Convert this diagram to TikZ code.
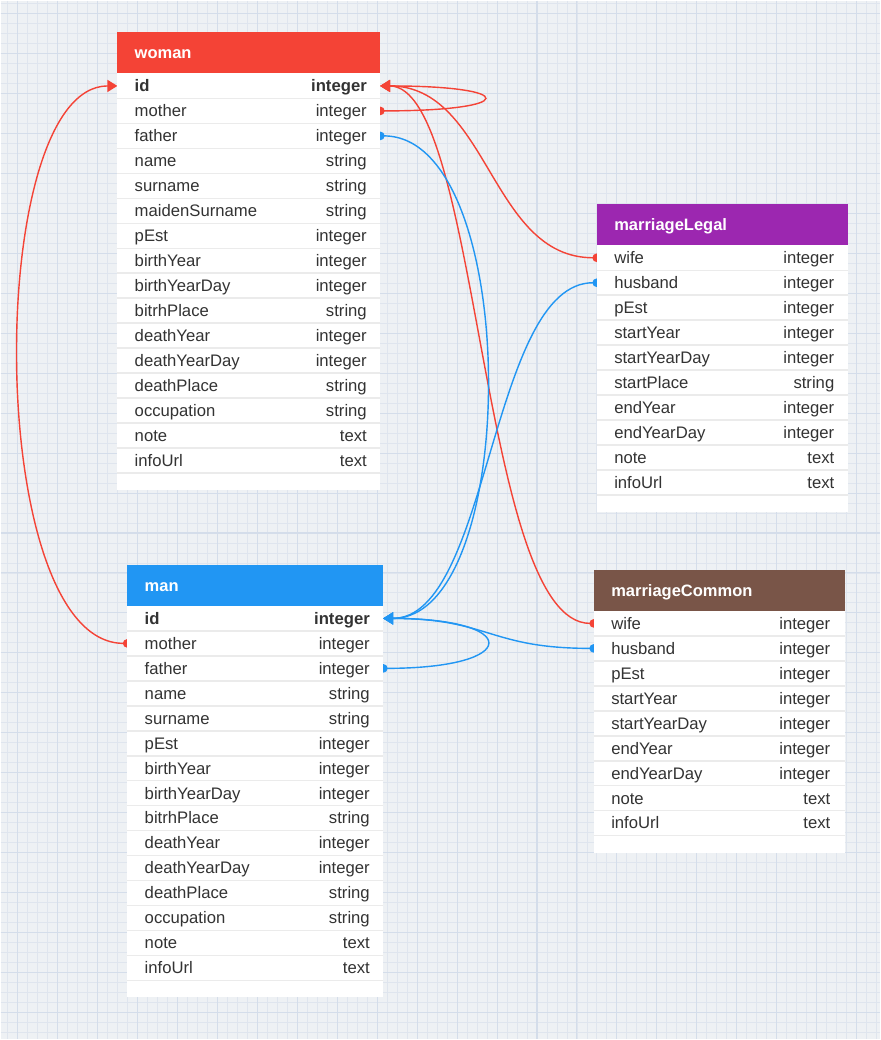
\documentclass[tikz,border=0pt]{standalone}
\usepackage{fontspec}
\setmainfont{Liberation Sans}
\usepackage{xcolor}
\usepackage{tikz}
\usetikzlibrary{arrows.meta,positioning}

\definecolor{bgcanvas}{HTML}{EEF1F4}
\definecolor{gridminor}{HTML}{DFE5EE}
\definecolor{gridmajor}{HTML}{D4DDEA}
\definecolor{womanred}{HTML}{F44336}
\definecolor{manblue}{HTML}{2196F3}
\definecolor{legalpurple}{HTML}{9C27B0}
\definecolor{commonbrown}{HTML}{795548}
\definecolor{fieldtext}{HTML}{333333}
\definecolor{rowgray}{HTML}{EBEBEB}

\pgfdeclarelayer{canvas}
\pgfdeclarelayer{links}
\pgfsetlayers{canvas,links,main}

\tikzset{
  tblbody/.style={anchor=north west, fill=white, inner sep=0pt, outer sep=0pt},
  tblhead/.style={anchor=north west, minimum height=0.82cm, inner sep=0pt, outer sep=0pt},
  fieldrow/.style={anchor=north west, minimum height=0.5cm, inner sep=0pt, outer sep=0pt},
  rowline/.style={draw=rowgray, line width=0.3mm},
  headtext/.style={text=white, inner sep=0pt, text height=8pt, text depth=1.4pt,
    font=\fontsize{9.4}{11}\selectfont\bfseries},
  fieldname/.style={text=fieldtext, inner sep=0pt, text height=8pt, text depth=1.4pt,
    font=\fontsize{9.5}{11}\selectfont},
  fieldtype/.style={fieldname},
  link/.style={line width=0.8pt, shorten <=-0.8mm,
    {Circle[length=1.7mm]}-{Triangle[length=2mm,width=2.4mm]}},
  redlink/.style={link, draw=womanred},
  bluelink/.style={link, draw=manblue}
}

\begin{document}
\begin{tikzpicture}[x=0.02cm, y=-0.02cm]

% canvas with grid
\begin{pgfonlayer}{canvas}
\fill[bgcanvas] (0,0) rectangle (880,1040);
\foreach \gx in {7,17,...,877} \draw[gridminor, line width=0.5pt] (\gx,0) -- (\gx,1040);
\foreach \gy in {3,13,...,1033} \draw[gridminor, line width=0.5pt] (0,\gy) -- (880,\gy);
\foreach \gx in {17,57,...,857} \draw[gridmajor, line width=0.6pt] (\gx,0) -- (\gx,1040);
\foreach \gy in {13,53,...,1013} \draw[gridmajor, line width=0.6pt] (0,\gy) -- (880,\gy);
\end{pgfonlayer}
\useasboundingbox (0,0) rectangle (880,1040);

% woman
\node[tblbody, minimum width=5.26cm, minimum height=9.16cm] at (117,32) {};
\node[tblhead, fill=womanred, minimum width=5.26cm] (woman) at (117,32) {};
\node[headtext, right=0.34cm of woman.west, anchor=west] {woman};
\foreach \fld/\typ [count=\k from 0] in {id/integer, mother/integer, father/integer,
    name/string, surname/string, maidenSurname/string, pEst/integer, birthYear/integer,
    birthYearDay/integer, bitrhPlace/string, deathYear/integer, deathYearDay/integer,
    deathPlace/string, occupation/string, note/text, infoUrl/text} {
  \node[fieldrow, minimum width=5.26cm] (w-\fld) at (117,{73+25*\k}) {};
  \draw[rowline] (w-\fld.south west) -- (w-\fld.south east);
  \node[fieldname, right=0.34cm of w-\fld.west, anchor=west] {\ifnum\k=0\bfseries\fi\fld};
  \node[fieldtype, left=0.26cm of w-\fld.east, anchor=east] {\ifnum\k=0\bfseries\fi\typ};
}

% man
\node[tblbody, minimum width=5.12cm, minimum height=8.66cm] at (127,565) {};
\node[tblhead, fill=manblue, minimum width=5.12cm] (man) at (127,565) {};
\node[headtext, right=0.34cm of man.west, anchor=west] {man};
\foreach \fld/\typ [count=\k from 0] in {id/integer, mother/integer, father/integer,
    name/string, surname/string, pEst/integer, birthYear/integer, birthYearDay/integer,
    bitrhPlace/string, deathYear/integer, deathYearDay/integer, deathPlace/string,
    occupation/string, note/text, infoUrl/text} {
  \node[fieldrow, minimum width=5.12cm] (m-\fld) at (127,{606+25*\k}) {};
  \draw[rowline] (m-\fld.south west) -- (m-\fld.south east);
  \node[fieldname, right=0.34cm of m-\fld.west, anchor=west] {\ifnum\k=0\bfseries\fi\fld};
  \node[fieldtype, left=0.26cm of m-\fld.east, anchor=east] {\ifnum\k=0\bfseries\fi\typ};
}

% marriageLegal
\node[tblbody, minimum width=5.02cm, minimum height=6.16cm] at (597,204) {};
\node[tblhead, fill=legalpurple, minimum width=5.02cm] (legal) at (597,204) {};
\node[headtext, right=0.34cm of legal.west, anchor=west] {marriageLegal};
\foreach \fld/\typ [count=\k from 0] in {wife/integer, husband/integer, pEst/integer,
    startYear/integer, startYearDay/integer, startPlace/string, endYear/integer,
    endYearDay/integer, note/text, infoUrl/text} {
  \node[fieldrow, minimum width=5.02cm] (l-\fld) at (597,{245+25*\k}) {};
  \draw[rowline] (l-\fld.south west) -- (l-\fld.south east);
  \node[fieldname, right=0.34cm of l-\fld.west, anchor=west] {\fld};
  \node[fieldtype, left=0.26cm of l-\fld.east, anchor=east] {\typ};
}

% marriageCommon
\node[tblbody, minimum width=5.02cm, minimum height=5.66cm] at (594,570) {};
\node[tblhead, fill=commonbrown, minimum width=5.02cm] (common) at (594,570) {};
\node[headtext, right=0.34cm of common.west, anchor=west] {marriageCommon};
\foreach \fld/\typ [count=\k from 0] in {wife/integer, husband/integer, pEst/integer,
    startYear/integer, startYearDay/integer, endYear/integer, endYearDay/integer,
    note/text, infoUrl/text} {
  \node[fieldrow, minimum width=5.02cm] (c-\fld) at (594,{611+25*\k}) {};
  \draw[rowline] (c-\fld.south west) -- (c-\fld.south east);
  \node[fieldname, right=0.34cm of c-\fld.west, anchor=west] {\fld};
  \node[fieldtype, left=0.28cm of c-\fld.east, anchor=east] {\typ};
}

% references
\begin{pgfonlayer}{links}
\draw[redlink] (w-mother.east) .. controls +(139,0) and +(139,0) .. (w-id.east);
\draw[redlink] (l-wife.west) .. controls +(-107,0) and +(109,0) .. (w-id.east);
\draw[redlink] (c-wife.west) .. controls +(-114,0) and +(100,0) .. (w-id.east);
\draw[redlink] (m-mother.west) .. controls +(-144,0) and +(-134,0) .. (w-id.west);
\draw[bluelink] (w-father.east) .. controls +(142,0) and +(139,0) .. (m-id.east);
\draw[bluelink] (l-husband.west) .. controls +(-107,0) and +(107,0) .. (m-id.east);
\draw[bluelink] (m-father.east) .. controls +(139,0) and +(139,0) .. (m-id.east);
\draw[bluelink] (c-husband.west) .. controls +(-105,0) and +(106,0) .. (m-id.east);
\end{pgfonlayer}

\end{tikzpicture}
\end{document}
